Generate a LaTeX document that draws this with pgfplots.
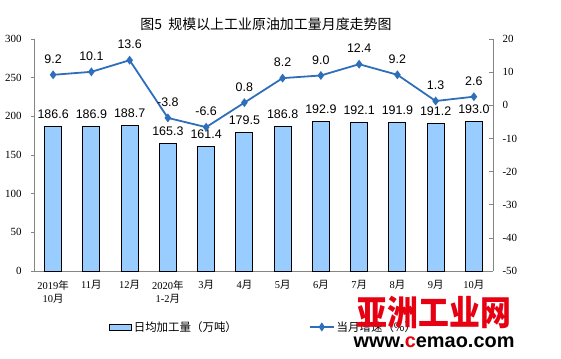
\documentclass[border=0pt]{standalone}
\usepackage{pgfplots}
\pgfplotsset{compat=1.18}
\usepackage{fontspec}
\setmainfont{Liberation Serif}
\newfontfamily\cjk{Noto Sans CJK SC}
\newfontfamily\arial{Liberation Sans}
\definecolor{barfill}{HTML}{99CCFF}
\definecolor{lineblue}{HTML}{2F6EBA}
\definecolor{axgray}{HTML}{868686}
\definecolor{wmred}{HTML}{E60012}
\pgfplotsset{/pgf/number format/assume math mode=true}

\pgfplotstableread{
x y label
0 186.6 186.6
1 186.9 186.9
2 188.7 188.7
3 165.3 165.3
4 161.4 161.4
5 179.5 179.5
6 186.8 186.8
7 192.9 192.9
8 192.1 192.1
9 191.9 191.9
10 191.2 191.2
11 193.0 193.0
}\bars
\pgfplotstableread{
x y label
0 9.2 9.2
1 10.1 10.1
2 13.6 13.6
3 -3.8 -3.8
4 -6.6 -6.6
5 0.8 0.8
6 8.2 8.2
7 9.0 9.0
8 12.4 12.4
9 9.2 9.2
10 1.3 1.3
11 2.6 2.6
}\growth

\begin{document}
\begin{tikzpicture}[x=1bp,y=1bp]
\path[use as bounding box] (0,0) rectangle (561,-358);
\node[font=\cjk\fontsize{14}{16}\selectfont] at (266,-24) {图5\ \ 规模以上工业原油加工量月度走势图};
\begin{axis}[
  at={(34bp,-271bp)}, anchor=south west,
  scale only axis, width=459bp, height=232bp,
  xmin=-0.5, xmax=11.5, ymin=0, ymax=300,
  ytick={0,50,...,300},
  axis y line*=left, axis x line*=bottom,
  axis line style={draw=axgray, line width=0.6pt},
  y axis line style={-}, x axis line style={-},
  xtick={0,...,11},
  xticklabels={{2019{\cjk 年}\\10{\cjk 月}},{11{\cjk 月}},{12{\cjk 月}},{2020{\cjk 年}\\1-2{\cjk 月}},{3{\cjk 月}},{4{\cjk 月}},{5{\cjk 月}},{6{\cjk 月}},{7{\cjk 月}},{8{\cjk 月}},{9{\cjk 月}},{10{\cjk 月}}},
  x tick label style={align=center, font=\fontsize{10.5}{13.5}\selectfont, yshift=-3bp},
  major x tick style={draw=none},
  extra x ticks={-0.5,0.5,...,11.5},
  extra x tick labels={},
  extra x tick style={tick align=inside, major tick length=5bp, tick style={draw=axgray, line width=0.6pt}},
  y tick label style={font=\fontsize{11}{13}\selectfont, xshift=-6bp},
  ytick style={draw=axgray, line width=0.6pt},
  tick align=outside, major tick length=3bp,
  ybar, bar width=17bp,
  nodes near coords, point meta=explicit symbolic,
  every node near coord/.append style={font=\arial\fontsize{12.5}{14}\selectfont, yshift=4bp, text=black},
]
\addplot[fill=barfill, draw=black, line width=0.8pt] table[x=x, y=y, meta=label] {\bars};
\end{axis}
\begin{axis}[
  at={(34bp,-271bp)}, anchor=south west,
  scale only axis, width=459bp, height=232bp,
  xmin=-0.5, xmax=11.5, ymin=-50, ymax=20,
  ytick={-50,-40,...,20},
  axis y line*=right, axis x line=none,
  axis line style={draw=axgray, line width=0.6pt, -},
  y tick label style={font=\fontsize{11}{13}\selectfont, xshift=6bp, anchor=west},
  ytick style={draw=axgray, line width=0.6pt},
  tick align=inside, major tick length=4bp,
  nodes near coords, point meta=explicit symbolic,
  every node near coord/.append style={font=\arial\fontsize{12.5}{14}\selectfont, yshift=7bp, text=black},
  legend columns=2,
  legend style={draw=none, fill=none, at={(0.5,-0.241)}, anchor=center,
    font=\cjk\fontsize{11.5}{13}\selectfont,
    /tikz/every even column/.append style={column sep=70bp}},
]
\addlegendimage{legend image code/.code={\draw[fill=barfill,draw=black,line width=0.8pt] (0bp,-3bp) rectangle (22bp,3bp);}}
\addlegendentry{日均加工量（万吨）}
\addplot[lineblue, line width=1.8pt, mark=diamond*, mark size=3bp, mark options={fill=lineblue, draw=lineblue},
  legend image code/.code={\draw[lineblue, line width=1.8pt] (0bp,0bp) -- (24bp,0bp); \fill[lineblue] (12bp,0bp) +(0,3bp) -- +(2bp,0) -- +(0,-3bp) -- +(-2bp,0) -- cycle;}] table[x=x, y=y, meta=label] {\growth};
\addlegendentry{当月增速（\%）}
\end{axis}
\node[font=\cjk\bfseries\fontsize{31}{33}\selectfont, text=wmred, yscale=1.12, inner sep=0] at (434,-312) {亚洲工业网};
\node[font=\arial\bfseries\fontsize{20}{22}\selectfont, inner sep=0] at (434,-342) {www.{\color{wmred}c}emao.com};
\end{tikzpicture}
\end{document}
